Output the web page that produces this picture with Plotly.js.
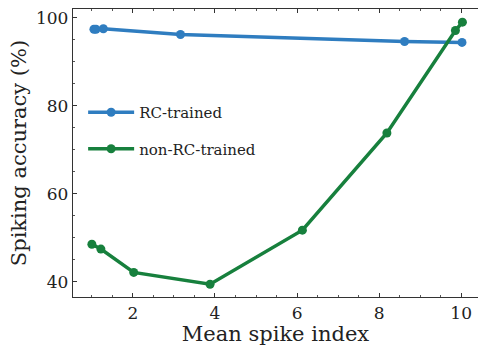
<!DOCTYPE html>
<html>
<head>
<meta charset="utf-8">
<script src="https://cdn.plot.ly/plotly-3.0.1.min.js"></script>
<style>html,body{margin:0;padding:0;background:#fff;}#chart{width:478px;height:346px;}</style>
</head>
<body>
<div id="chart"></div>
<script>
const rcX = [1.05, 1.10, 1.28, 3.16, 8.62, 10.02];
const rcY = [97.4, 97.4, 97.5, 96.2, 94.6, 94.4];
const nonRcX = [1.00, 1.22, 2.02, 3.88, 6.13, 8.19, 9.86, 10.03];
const nonRcY = [48.5, 47.4, 42.1, 39.4, 51.7, 73.8, 97.1, 99.0];
const seriesNames = ["RC-trained", "non-RC-trained"];
const xTicks = [2, 4, 6, 8, 10];
const yTicks = [40, 60, 80, 100];

const font = "DejaVu Serif";
const traces = [
  {x: rcX, y: rcY, name: seriesNames[0], legendgroup: "a", mode: "lines+markers",
   line: {color: "#2f7dc0", width: 3.5}, marker: {color: "#2f7dc0", size: 9}},
  {x: nonRcX, y: nonRcY, name: seriesNames[1], legendgroup: "b", mode: "lines+markers",
   line: {color: "#17803d", width: 3.5}, marker: {color: "#17803d", size: 9}}
];
const layout = {
  width: 478, height: 346,
  margin: {l: 73, r: 0, t: 9, b: 49},
  paper_bgcolor: "#fff", plot_bgcolor: "#fff",
  font: {family: font, color: "#222", size: 18},
  showlegend: true,
  legend: {x: 0.025, y: 0.698, xanchor: "left", yanchor: "top",
           font: {family: font, size: 15, color: "#222"}, bgcolor: "rgba(0,0,0,0)",
           tracegroupgap: 14, itemwidth: 46},
  xaxis: {range: [0.54, 10.41], tickvals: xTicks, ticktext: xTicks.map(String),
          ticks: "inside", ticklen: 4, tickwidth: 1, tickcolor: "#333",
          showline: true, linecolor: "#333", linewidth: 1.2, mirror: "allticks",
          showgrid: false, zeroline: false,
          minor: {dtick: 0.5, tick0: 0, ticks: "inside", ticklen: 2, tickcolor: "#555", showgrid: false},
          tickfont: {family: font, size: 17, color: "#222"},
          title: {text: "Mean spike index", font: {family: font, size: 21, color: "#222"}, standoff: 6}},
  yaxis: {range: [36.5, 102.0], tickvals: yTicks, ticktext: yTicks.map(String),
          ticks: "inside", ticklen: 4, tickwidth: 1, tickcolor: "#333",
          showline: true, linecolor: "#333", linewidth: 1.2, mirror: false,
          showgrid: false, zeroline: false,
          minor: {dtick: 5, tick0: 0, ticks: "inside", ticklen: 2, tickcolor: "#555", showgrid: false},
          tickfont: {family: font, size: 17, color: "#222"},
          title: {text: "Spiking accuracy (%)", font: {family: font, size: 21, color: "#222"}, standoff: 3}}
};
Plotly.newPlot("chart", traces, layout, {displayModeBar: false, staticPlot: true});
</script>
</body>
</html>
